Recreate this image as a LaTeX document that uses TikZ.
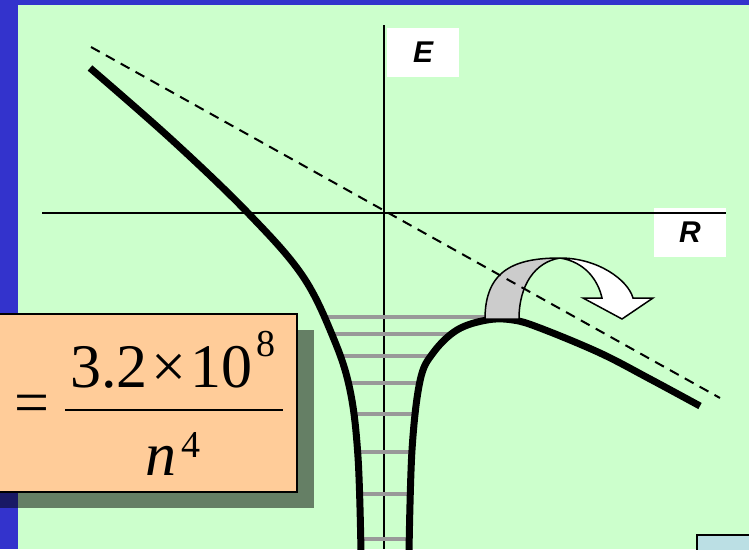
\documentclass[tikz,border=0pt]{standalone}
\usepackage{fontspec}
\setmainfont{Liberation Serif}
\setsansfont{Liberation Sans}
\definecolor{frameblue}{HTML}{3333CC}
\definecolor{bggreen}{HTML}{CCFFCC}
\definecolor{boxorange}{HTML}{FFCC99}
\definecolor{levelgray}{HTML}{999999}
\definecolor{bandgray}{HTML}{CCCCCC}
\definecolor{cornerblue}{HTML}{BBDFE4}
\tikzset{
  axislabel/.style={fill=white, inner sep=0pt, minimum width=72pt, minimum height=49pt,
    font=\fontsize{30}{30}\selectfont\sffamily\bfseries\itshape},
  axisline/.style={line width=2pt, black},
  potential/.style={line width=7pt, black},
  level/.style={line width=4pt, levelgray},
  asymp/.style={line width=2pt, black, dash pattern=on 10pt off 7pt},
  bignum/.style={inner sep=0pt, font=\fontsize{62}{62}\selectfont},
  supnum/.style={inner sep=0pt, font=\fontsize{38}{38}\selectfont},
  arrowpart/.style={draw=black, line width=1.5pt, line join=miter},
}
\begin{document}
\begin{tikzpicture}[x=1pt,y=-1pt]
\useasboundingbox (0,0) rectangle (749,549);
\clip (0,0) rectangle (749,549);
% background
\fill[frameblue] (0,0) rectangle (749,549);
\fill[bggreen] (18,5) rectangle (749,549);
% axis label boxes
\node[axislabel] (Elab) at (423,52.5) {E};
\node[axislabel] (Rlab) at (690,232.5) {R};
% axes
\coordinate (vtop) at (384,25);
\coordinate (vbot) at (384,549);
\coordinate (hl) at (42,213);
\coordinate (hr) at (726,213);
\draw[axisline] (vtop) -- (vbot);
\draw[axisline] (hl) -- (hr);
% energy levels
\foreach \y/\xa/\xb in {317/325/486, 334/333/455, 356/340/432, 383/346/421, 414/352/414, 452/356/411, 494/359/410, 539/360/410}
  \draw[level] (\xa,\y) -- (\xb,\y);
% potential curves
\draw[potential, line cap=butt] plot[smooth, tension=0.6] coordinates {
  (90,68) (172,140) (248,213) (302,275) (333,337) (350,390) (358,457) (361,552)};
\draw[potential, line cap=butt] plot[smooth, tension=0.6] coordinates {
  (409,552) (412,450) (420,381) (433,353) (457,330) (487,320) (513,320) (540,328) (600,353) (650,379) (700,406)};
% curved arrow
\fill[bandgray, arrowpart]
  (485,319) .. controls (485,270) and (515,258) .. (560,258)
  .. controls (535,262) and (519,285) .. (519,319) -- cycle;
\fill[white, arrowpart]
  (560,258) .. controls (598,258) and (628,280) .. (633,298)
  -- (653,298) -- (622,319) -- (583,298) -- (602,298)
  .. controls (598,280) and (585,262) .. (560,258) -- cycle;
% asymptote
\coordinate (da) at (91,47);
\coordinate (db) at (720,398);
\draw[asymp] (da) -- (db);
% formula box with shadow
\fill[black, opacity=0.5] (0,330) rectangle (314,508);
\draw[line width=2pt, fill=boxorange] (-3,314) rectangle (297,492);
\node[bignum, anchor=center] (eq) at (31.5,409.5) {=};
\node[bignum, anchor=base west] (num) at (70,387) {3.2\hspace{4pt}×\hspace{4pt}10};
\node[supnum, anchor=base west, xshift=3pt, yshift=31pt] (sup8) at (num.base east) {8};
\coordinate (fbl) at (65,410);
\coordinate (fbr) at (283,410);
\draw[line width=2.5pt] (fbl) -- (fbr);
\node[bignum, anchor=base west, font=\fontsize{62}{62}\selectfont\itshape] (den) at (145,475) {n};
\node[supnum, anchor=base west, xshift=5pt, yshift=18pt] (sup4) at (den.base east) {4};
% corner box
\draw[line width=2pt, fill=cornerblue] (697,535) rectangle (760,560);
\end{tikzpicture}
\end{document}
